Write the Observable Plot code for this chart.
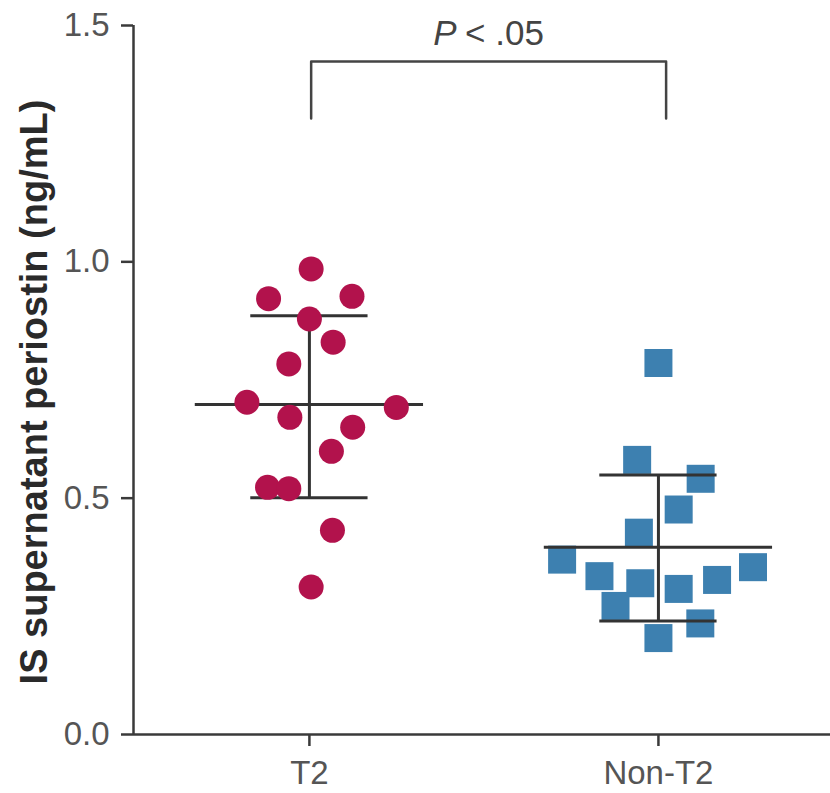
<!DOCTYPE html>
<html>
<head>
<meta charset="utf-8">
<script src="https://cdn.jsdelivr.net/npm/d3@7"></script>
<script src="https://cdn.jsdelivr.net/npm/@observablehq/plot@0.6"></script>
<style>
  html, body { margin: 0; padding: 0; background: #fff; }
  svg { display: block; }
</style>
</head>
<body>
<div id="chart"></div>
<script>
// Categories (x positions 1 and 2)
const categories = ["T2", "Non-T2"];
const yTicks = [0, 0.5, 1.0, 1.5];

// T2 group: periostin values and horizontal scatter offsets (in category units)
const t2Values  = [0.985, 0.922, 0.927, 0.879, 0.830, 0.784, 0.703, 0.692, 0.671, 0.650, 0.599, 0.523, 0.520, 0.432, 0.312];
const t2Offsets = [0.005, -0.117, 0.122, 0.000, 0.068, -0.059, -0.179, 0.249, -0.056, 0.124, 0.063, -0.120, -0.059, 0.066, 0.005];

// Non-T2 group
const nonT2Values  = [0.786, 0.581, 0.541, 0.476, 0.427, 0.370, 0.335, 0.320, 0.308, 0.327, 0.354, 0.272, 0.235, 0.204];
const nonT2Offsets = [0.000, -0.061, 0.121, 0.058, -0.056, -0.276, -0.169, -0.052, 0.058, 0.168, 0.271, -0.123, 0.120, 0.000];

// Summary statistics (mean and mean ± SD) per group
const means  = [0.698, 0.396];
const sdHigh = [0.886, 0.549];
const sdLow  = [0.501, 0.240];

// Significance bracket
const bracketX = [1.005, 2.022];
const bracketY = [1.303, 1.424];
const pLabel = "< .05";

const t2 = t2Values.map((v, i) => ({x: 1 + t2Offsets[i], v}));
const nonT2 = nonT2Values.map((v, i) => ({x: 2 + nonT2Offsets[i], v}));
const stats = means.map((m, i) => ({g: i + 1, m, hi: sdHigh[i], lo: sdLow[i]}));

const xDomain = [0.496, 2.493];
const axisColor = "#3a3a3a";
const lineColor = "#333";

const chart = Plot.plot({
  width: 830,
  height: 793,
  marginLeft: 133,
  marginRight: 0,
  marginTop: 25,
  marginBottom: 59,
  style: {fontFamily: "Liberation Sans, Arial, sans-serif", background: "#fff"},
  x: {domain: xDomain, axis: null},
  y: {domain: [0, 1.5], axis: null},
  marks: [
    // axis lines
    Plot.ruleY([0], {stroke: axisColor, strokeWidth: 2.5}),
    Plot.ruleX([xDomain[0]], {y1: 0, y2: 1.5, stroke: axisColor, strokeWidth: 2.5}),
    Plot.axisY({
      ticks: yTicks, tickFormat: d3.format(".1f"), tickSize: 12, tickPadding: 12,
      fontSize: 33, stroke: axisColor, strokeWidth: 2.5, color: "#555", label: null
    }),
    Plot.axisX({
      ticks: [1, 2], tickFormat: d => categories[d - 1], tickSize: 12, tickPadding: 14,
      fontSize: 33, stroke: axisColor, strokeWidth: 2.5, color: "#555", label: null
    }),
    // y label
    Plot.text(["IS supernatant periostin (ng/mL)"], {
      frameAnchor: "left", dx: -99, dy: 12, rotate: -90, textAnchor: "middle",
      fontSize: 38, fontWeight: "bold", fill: "#2a2a2a"
    }),
    // squares
    Plot.dot(nonT2, {x: "x", y: "v", symbol: "square", r: 15.8, fill: "#3d80b0", stroke: "none"}),
    // mean and SD lines
    Plot.ruleY(stats, {y: "m", x1: d => d.g - 0.327, x2: d => d.g + 0.327, stroke: lineColor, strokeWidth: 3}),
    Plot.ruleY(stats, {y: "hi", x1: d => d.g - 0.168, x2: d => d.g + 0.168, stroke: lineColor, strokeWidth: 3}),
    Plot.ruleY(stats, {y: "lo", x1: d => d.g - 0.168, x2: d => d.g + 0.168, stroke: lineColor, strokeWidth: 3}),
    Plot.ruleX(stats, {x: "g", y1: "lo", y2: "hi", stroke: lineColor, strokeWidth: 3}),
    // circles
    Plot.dot(t2, {x: "x", y: "v", r: 12.5, fill: "#b2124c", stroke: "none"}),
    // bracket
    Plot.line([
      {x: bracketX[0], y: bracketY[0]}, {x: bracketX[0], y: bracketY[1]},
      {x: bracketX[1], y: bracketY[1]}, {x: bracketX[1], y: bracketY[0]}
    ], {x: "x", y: "y", stroke: "#444", strokeWidth: 2.5, curve: "linear"}),
    Plot.text([pLabel], {
      x: (bracketX[0] + bracketX[1]) / 2, y: 1.5, dy: 8, textAnchor: "middle",
      fontSize: 35, fill: "#444",
      text: d => d
    })
  ]
});
// render "P" in italics before the label
chart.querySelectorAll("text").forEach(t => {
  if (t.textContent === pLabel) {
    t.textContent = "";
    const ns = "http://www.w3.org/2000/svg";
    const a = document.createElementNS(ns, "tspan");
    a.setAttribute("font-style", "italic");
    a.textContent = "P ";
    const b = document.createElementNS(ns, "tspan");
    b.textContent = pLabel;
    t.appendChild(a); t.appendChild(b);
  }
});
document.getElementById("chart").appendChild(chart);
</script>
</body>
</html>
